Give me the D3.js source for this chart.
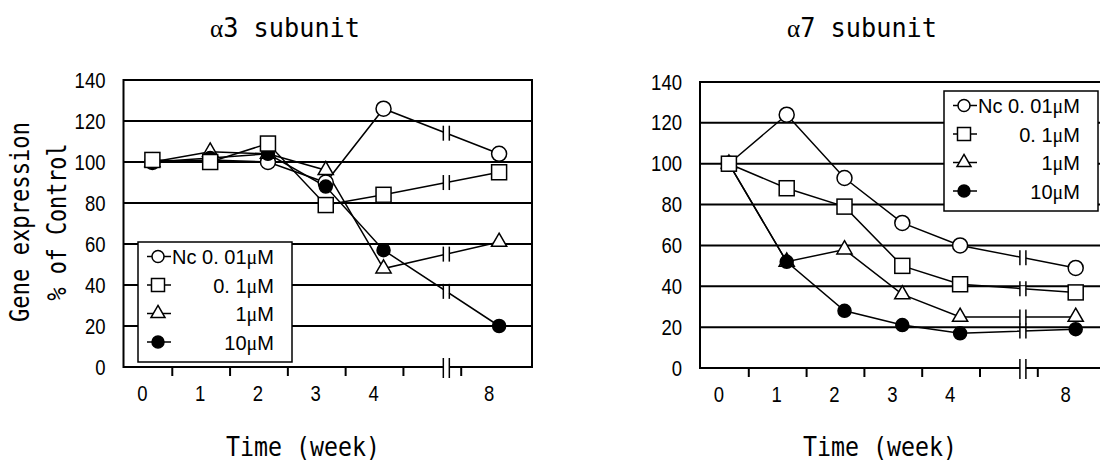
<!DOCTYPE html>
<html>

<head>
    <meta charset="utf-8">
    <style>
        body {
            margin: 0;
            background: white;
        }

        svg {
            display: block;
        }

        .mono {
            font-family: 'DejaVu Sans Mono', monospace;
            fill: black;
        }

        .num {
            font-family: 'Liberation Sans', Arial, sans-serif;
            font-size: 22px;
            fill: black;
        }

        .legend {
            font-family: 'Liberation Sans', Arial, sans-serif;
            font-size: 20px;
            fill: black;
        }

        .greek {
            font-family: 'Liberation Serif', 'DejaVu Serif', serif;
        }
    </style>
</head>

<body>
    <svg width="1100" height="462"></svg>
</body>

<script src="https://d3js.org/d3.v7.min.js"></script>

<script>

    // categories on the x axis (blank slot = the axis break)
    let weeks = ["0", "1", "2", "3", "4", "", "8"];
    let sampleWeeks = ["0", "1", "2", "3", "4", "8"];
    let yTicks = [0, 20, 40, 60, 80, 100, 120, 140];

    // legend text (the "μM" unit is added with a serif tspan)
    let doseLabels = ["Nc 0. 01", "0. 1", "1", "10"];
    let symbols = ["circle", "square", "triangle", "dot"];

    // alpha 3 subunit, % of control
    let a3Nc = [100, 101, 100, 90, 126, 104];
    let a3Dose01 = [101, 100, 109, 79, 84, 95];
    let a3Dose1 = [100, 105, 104, 96, 48, 61];
    let a3Dose10 = [100, 102, 104, 88, 57, 20];

    // alpha 7 subunit, % of control
    let a7Nc = [100, 124, 93, 71, 60, 49];
    let a7Dose01 = [100, 88, 79, 50, 41, 37];
    let a7Dose1 = [100, 52, 58, 36, 25, 25];
    let a7Dose10 = [100, 52, 28, 21, 17, 19];

    let panels = [
        {
            name: "3", series: [a3Nc, a3Dose01, a3Dose1, a3Dose10],
            left: 123.5, right: 532, bandRight: 528, y0: 367, yTop: 80,
            legendX: 138, legendY: 242, titleX: 285, timeX: 303, yLabel: true
        },
        {
            name: "7", series: [a7Nc, a7Dose01, a7Dose1, a7Dose10],
            left: 700, right: 1112, bandRight: 1104.6, y0: 368, yTop: 82,
            legendX: 944, legendY: 91, titleX: 862, timeX: 880, yLabel: false
        }
    ];

    let svg = d3.select("svg");

    function marker(g, type, x, y, small) {
        if (type == "circle" || type == "dot") {
            let r = type == "circle" ? (small ? 6 : 7.5) : (small ? 6 : 6.5);
            g.append("circle")
                .attr("cx", x).attr("cy", y).attr("r", r)
                .style("fill", type == "dot" ? "black" : "white")
                .style("stroke", "black").style("stroke-width", 1.5);
        } else if (type == "square") {
            let s = small ? 13 : 15;
            g.append("rect")
                .attr("x", x - s / 2).attr("y", y - s / 2)
                .attr("width", s).attr("height", s)
                .style("fill", "white").style("stroke", "black").style("stroke-width", 1.5);
        } else {
            g.append("path")
                .attr("d", d3.symbol().type(d3.symbolTriangle).size(small ? 85 : 100)())
                .attr("transform", "translate(" + x + "," + y + ")")
                .style("fill", "white").style("stroke", "black").style("stroke-width", 1.5);
        }
    }

    function breakMark(g, x, y, h) {
        g.append("rect")
            .attr("x", x - 3).attr("y", y - 2.5)
            .attr("width", 6).attr("height", 5)
            .style("fill", "white");
        [x - 3, x + 3].forEach(bx => {
            g.append("line")
                .attr("x1", bx).attr("x2", bx)
                .attr("y1", y - h / 2).attr("y2", y + h / 2)
                .style("stroke", "black").style("stroke-width", 1.5);
        });
    }

    // narrow, tall digits like the original figure
    function squeeze(sel) {
        sel.attr("class", "num")
            .attr("font-size", null).attr("font-family", null)
            .attr("lengthAdjust", "spacingAndGlyphs")
            .attr("textLength", function () { return this.textContent.length * 10.3; });
    }

    function monoText(g, str, fs, len) {
        return g.append("text")
            .attr("class", "mono")
            .attr("text-anchor", "middle")
            .attr("lengthAdjust", "spacingAndGlyphs")
            .attr("textLength", len)
            .style("font-size", fs + "px")
            .text(str);
    }

    panels.forEach(p => {
        let g = svg.append("g");

        let x = d3.scaleBand()
            .domain(weeks)
            .range([p.left, p.bandRight]);

        let y = d3.scaleLinear()
            .domain([0, 140])
            .range([p.y0, p.yTop]);

        let cx = w => x(w) + x.bandwidth() / 2;
        let breakX = cx("") + 5;

        // horizontal grid lines
        g.selectAll(".grid")
            .data(yTicks.slice(1, -1))
            .join("line")
            .attr("x1", p.left).attr("x2", p.right)
            .attr("y1", d => y(d)).attr("y2", d => y(d))
            .style("stroke", "black").style("stroke-width", 2);

        // plot frame
        g.append("rect")
            .attr("x", p.left).attr("y", y(140))
            .attr("width", p.right - p.left).attr("height", y(0) - y(140))
            .style("fill", "none").style("stroke", "black").style("stroke-width", 2);

        // y axis labels
        let yAxis = g.append("g")
            .attr("transform", "translate(" + p.left + ",0)")
            .call(d3.axisLeft(y).tickValues(yTicks).tickSize(0).tickPadding(18));
        yAxis.select(".domain").remove();
        yAxis.selectAll("text").call(squeeze);

        // x axis labels, shifted left like the original figure
        let xAxis = g.append("g")
            .attr("transform", "translate(-10," + p.y0 + ")")
            .call(d3.axisBottom(x).tickSize(0).tickPadding(18).tickSizeOuter(0));
        xAxis.select(".domain").remove();
        xAxis.selectAll("text").call(squeeze);

        // x tick marks between categories
        g.selectAll(".xtick")
            .data(weeks.slice(1))
            .join("line")
            .attr("x1", d => x(d) - 9).attr("x2", d => x(d) - 9)
            .attr("y1", p.y0).attr("y2", p.y0 + 9)
            .style("stroke", "black").style("stroke-width", 2);

        breakMark(g, breakX, p.y0 + 1, 20);

        // series lines
        p.series.forEach((vals, si) => {
            let pts = sampleWeeks.map((w, i) => [cx(w), y(vals[i])]);
            g.append("path")
                .attr("d", d3.line()(pts))
                .style("fill", "none")
                .style("stroke", "black")
                .style("stroke-width", 1.5);

            // break on the 4 -> 8 segment
            let a = pts[4], b = pts[5];
            let t = (breakX - a[0]) / (b[0] - a[0]);
            breakMark(g, breakX, a[1] + t * (b[1] - a[1]), 15);
        });

        // markers (drawn so the open square sits on top at week 0)
        [0, 2, 3, 1].forEach(si => {
            sampleWeeks.forEach((w, i) => {
                marker(g, symbols[si], cx(w), y(p.series[si][i]), false);
            });
        });

        // legend
        let lg = g.append("g")
            .attr("transform", "translate(" + p.legendX + "," + p.legendY + ")");
        lg.append("rect")
            .attr("width", 154).attr("height", 120)
            .style("fill", "white").style("stroke", "black").style("stroke-width", 1.5);
        doseLabels.forEach((lab, i) => {
            let ly = 14.5 + i * 28.5;
            lg.append("line")
                .attr("x1", 9).attr("x2", 33)
                .attr("y1", ly).attr("y2", ly)
                .style("stroke", "black").style("stroke-width", 1.5);
            marker(lg, symbols[i], 20, ly, true);
            let tx = lg.append("text")
                .attr("class", "legend")
                .attr("x", 136).attr("y", ly + 7.5)
                .attr("text-anchor", "end")
                .attr("xml:space", "preserve");
            tx.append("tspan").text(lab);
            tx.append("tspan").attr("class", "greek").text("μ");
            tx.append("tspan").text("M");
        });

        // title
        let title = g.append("text")
            .attr("class", "mono")
            .attr("x", p.titleX).attr("y", 37)
            .attr("text-anchor", "middle")
            .attr("lengthAdjust", "spacingAndGlyphs")
            .attr("textLength", 150)
            .style("font-size", "26px");
        title.append("tspan").attr("class", "greek").text("α");
        title.append("tspan").text(p.name + " subunit");

        monoText(g, "Time (week)", 27, 154)
            .attr("x", p.timeX).attr("y", 456);

        if (p.yLabel) {
            monoText(g, "Gene expression", 26, 200)
                .attr("transform", "translate(29,222) rotate(-90)");
            monoText(g, "% of Control", 26, 157)
                .attr("transform", "translate(66,222) rotate(-90)");
        }
    });

</script>

</html>
